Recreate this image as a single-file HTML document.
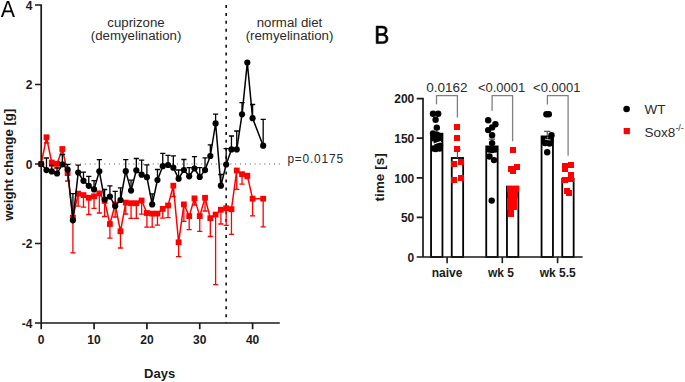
<!DOCTYPE html>
<html><head><meta charset="utf-8"><style>
html,body{margin:0;padding:0;background:#fff;}
body{width:685px;height:382px;overflow:hidden;}
svg{display:block;}
text{font-family:"Liberation Sans",sans-serif;fill:#1a1a1a;}
.tb{font-size:12px;font-weight:bold;}
.tt{font-size:13px;font-weight:bold;}
.tt2{font-size:13.2px;font-weight:bold;}
.tt3{font-size:13.6px;font-weight:bold;}
.lab{font-size:13.25px;fill:#2a2a2a;}
.pv{font-size:11.9px;fill:#2a2a2a;}
.pvb{font-size:13px;fill:#2a2a2a;}
.pvc{font-size:13.5px;fill:#2a2a2a;}
.leg{font-size:13.5px;fill:#2a2a2a;}
.sup{font-size:9px;}
.big{font-size:24px;fill:#000;}
.big2{font-size:26.3px;fill:#000;}
</style></head><body>
<svg width="685" height="382" viewBox="0 0 685 382">
<line x1="41.2" y1="164.0" x2="280" y2="164.0" stroke="#8a8a8a" stroke-width="1.4" stroke-dasharray="1 3.85"/>
<line x1="226.18" y1="5" x2="226.18" y2="323" stroke="#1a1a1a" stroke-width="1.7" stroke-dasharray="3 4.93"/>
<polyline points="41.20,164.00 46.48,137.30 51.77,162.50 57.06,163.80 62.34,149.00 67.62,173.10 72.91,217.70 78.20,193.60 83.48,195.10 88.77,197.80 94.05,196.30 99.34,193.40 104.62,200.90 109.91,224.00 115.19,204.50 120.48,231.30 125.76,202.60 131.05,203.20 136.33,203.20 141.62,200.50 146.90,213.00 152.19,213.60 157.47,213.60 162.75,208.90 168.04,205.50 173.32,185.70 178.61,242.30 183.89,204.40 189.18,216.10 194.47,198.40 199.75,216.10 205.04,197.80 210.32,218.20 215.61,214.60 220.89,209.70 226.18,208.30 231.46,209.20 236.75,170.50 242.03,174.20 247.31,175.70 252.60,198.70 263.17,198.70" fill="none" stroke="#ff0000" stroke-width="1.5" stroke-linejoin="round"/>
<path d="M46.48 137.30V143.00M43.88 143.00H49.09" stroke="#ff0000" stroke-width="1.3" fill="none"/>
<path d="M51.77 162.50V166.00M49.17 166.00H54.37" stroke="#ff0000" stroke-width="1.3" fill="none"/>
<path d="M57.06 163.80V168.20M54.46 168.20H59.66" stroke="#ff0000" stroke-width="1.3" fill="none"/>
<path d="M62.34 149.00V154.10M59.74 154.10H64.94" stroke="#ff0000" stroke-width="1.3" fill="none"/>
<path d="M67.62 173.10V181.00M65.03 181.00H70.22" stroke="#ff0000" stroke-width="1.3" fill="none"/>
<path d="M72.91 217.70V252.80M70.31 252.80H75.51" stroke="#ff0000" stroke-width="1.3" fill="none"/>
<path d="M78.20 193.60V206.20M75.60 206.20H80.80" stroke="#ff0000" stroke-width="1.3" fill="none"/>
<path d="M83.48 195.10V207.20M80.88 207.20H86.08" stroke="#ff0000" stroke-width="1.3" fill="none"/>
<path d="M88.77 197.80V214.50M86.17 214.50H91.36" stroke="#ff0000" stroke-width="1.3" fill="none"/>
<path d="M94.05 196.30V208.30M91.45 208.30H96.65" stroke="#ff0000" stroke-width="1.3" fill="none"/>
<path d="M99.34 193.40V213.00M96.74 213.00H101.94" stroke="#ff0000" stroke-width="1.3" fill="none"/>
<path d="M104.62 200.90V216.50M102.02 216.50H107.22" stroke="#ff0000" stroke-width="1.3" fill="none"/>
<path d="M109.91 224.00V238.20M107.31 238.20H112.50" stroke="#ff0000" stroke-width="1.3" fill="none"/>
<path d="M115.19 204.50V217.00M112.59 217.00H117.79" stroke="#ff0000" stroke-width="1.3" fill="none"/>
<path d="M120.48 231.30V248.00M117.88 248.00H123.08" stroke="#ff0000" stroke-width="1.3" fill="none"/>
<path d="M125.76 202.60V214.00M123.16 214.00H128.36" stroke="#ff0000" stroke-width="1.3" fill="none"/>
<path d="M131.05 203.20V218.40M128.45 218.40H133.65" stroke="#ff0000" stroke-width="1.3" fill="none"/>
<path d="M136.33 203.20V218.40M133.73 218.40H138.93" stroke="#ff0000" stroke-width="1.3" fill="none"/>
<path d="M141.62 200.50V214.20M139.02 214.20H144.22" stroke="#ff0000" stroke-width="1.3" fill="none"/>
<path d="M146.90 213.00V227.20M144.30 227.20H149.50" stroke="#ff0000" stroke-width="1.3" fill="none"/>
<path d="M152.19 213.60V227.20M149.59 227.20H154.78" stroke="#ff0000" stroke-width="1.3" fill="none"/>
<path d="M157.47 213.60V225.20M154.87 225.20H160.07" stroke="#ff0000" stroke-width="1.3" fill="none"/>
<path d="M162.75 208.90V218.20M160.16 218.20H165.35" stroke="#ff0000" stroke-width="1.3" fill="none"/>
<path d="M168.04 205.50V217.60M165.44 217.60H170.64" stroke="#ff0000" stroke-width="1.3" fill="none"/>
<path d="M173.32 185.70V196.70M170.72 196.70H175.92" stroke="#ff0000" stroke-width="1.3" fill="none"/>
<path d="M178.61 242.30V256.70M176.01 256.70H181.21" stroke="#ff0000" stroke-width="1.3" fill="none"/>
<path d="M183.89 204.40V221.40M181.29 221.40H186.49" stroke="#ff0000" stroke-width="1.3" fill="none"/>
<path d="M189.18 216.10V229.70M186.58 229.70H191.78" stroke="#ff0000" stroke-width="1.3" fill="none"/>
<path d="M194.47 198.40V205.00M191.87 205.00H197.07" stroke="#ff0000" stroke-width="1.3" fill="none"/>
<path d="M199.75 216.10V231.30M197.15 231.30H202.35" stroke="#ff0000" stroke-width="1.3" fill="none"/>
<path d="M205.04 197.80V211.00M202.44 211.00H207.64" stroke="#ff0000" stroke-width="1.3" fill="none"/>
<path d="M210.32 218.20V236.50M207.72 236.50H212.92" stroke="#ff0000" stroke-width="1.3" fill="none"/>
<path d="M215.61 214.60V284.60M213.01 284.60H218.21" stroke="#ff0000" stroke-width="1.3" fill="none"/>
<path d="M220.89 209.70V224.00M218.29 224.00H223.49" stroke="#ff0000" stroke-width="1.3" fill="none"/>
<path d="M226.18 208.30V225.30M223.58 225.30H228.78" stroke="#ff0000" stroke-width="1.3" fill="none"/>
<path d="M231.46 209.20V234.30M228.86 234.30H234.06" stroke="#ff0000" stroke-width="1.3" fill="none"/>
<path d="M236.75 170.50V189.30M234.15 189.30H239.34" stroke="#ff0000" stroke-width="1.3" fill="none"/>
<path d="M242.03 174.20V184.10M239.43 184.10H244.63" stroke="#ff0000" stroke-width="1.3" fill="none"/>
<path d="M247.31 175.70V178.50M244.72 178.50H249.91" stroke="#ff0000" stroke-width="1.3" fill="none"/>
<path d="M252.60 198.70V215.90M250.00 215.90H255.20" stroke="#ff0000" stroke-width="1.3" fill="none"/>
<path d="M263.17 198.70V226.90M260.57 226.90H265.77" stroke="#ff0000" stroke-width="1.3" fill="none"/>
<rect x="38.30" y="161.10" width="5.80" height="5.80" fill="#ff0000"/>
<rect x="43.59" y="134.40" width="5.80" height="5.80" fill="#ff0000"/>
<rect x="48.87" y="159.60" width="5.80" height="5.80" fill="#ff0000"/>
<rect x="54.16" y="160.90" width="5.80" height="5.80" fill="#ff0000"/>
<rect x="59.44" y="146.10" width="5.80" height="5.80" fill="#ff0000"/>
<rect x="64.72" y="170.20" width="5.80" height="5.80" fill="#ff0000"/>
<rect x="70.01" y="214.80" width="5.80" height="5.80" fill="#ff0000"/>
<rect x="75.30" y="190.70" width="5.80" height="5.80" fill="#ff0000"/>
<rect x="80.58" y="192.20" width="5.80" height="5.80" fill="#ff0000"/>
<rect x="85.86" y="194.90" width="5.80" height="5.80" fill="#ff0000"/>
<rect x="91.15" y="193.40" width="5.80" height="5.80" fill="#ff0000"/>
<rect x="96.44" y="190.50" width="5.80" height="5.80" fill="#ff0000"/>
<rect x="101.72" y="198.00" width="5.80" height="5.80" fill="#ff0000"/>
<rect x="107.00" y="221.10" width="5.80" height="5.80" fill="#ff0000"/>
<rect x="112.29" y="201.60" width="5.80" height="5.80" fill="#ff0000"/>
<rect x="117.58" y="228.40" width="5.80" height="5.80" fill="#ff0000"/>
<rect x="122.86" y="199.70" width="5.80" height="5.80" fill="#ff0000"/>
<rect x="128.15" y="200.30" width="5.80" height="5.80" fill="#ff0000"/>
<rect x="133.43" y="200.30" width="5.80" height="5.80" fill="#ff0000"/>
<rect x="138.72" y="197.60" width="5.80" height="5.80" fill="#ff0000"/>
<rect x="144.00" y="210.10" width="5.80" height="5.80" fill="#ff0000"/>
<rect x="149.28" y="210.70" width="5.80" height="5.80" fill="#ff0000"/>
<rect x="154.57" y="210.70" width="5.80" height="5.80" fill="#ff0000"/>
<rect x="159.85" y="206.00" width="5.80" height="5.80" fill="#ff0000"/>
<rect x="165.14" y="202.60" width="5.80" height="5.80" fill="#ff0000"/>
<rect x="170.42" y="182.80" width="5.80" height="5.80" fill="#ff0000"/>
<rect x="175.71" y="239.40" width="5.80" height="5.80" fill="#ff0000"/>
<rect x="180.99" y="201.50" width="5.80" height="5.80" fill="#ff0000"/>
<rect x="186.28" y="213.20" width="5.80" height="5.80" fill="#ff0000"/>
<rect x="191.57" y="195.50" width="5.80" height="5.80" fill="#ff0000"/>
<rect x="196.85" y="213.20" width="5.80" height="5.80" fill="#ff0000"/>
<rect x="202.14" y="194.90" width="5.80" height="5.80" fill="#ff0000"/>
<rect x="207.42" y="215.30" width="5.80" height="5.80" fill="#ff0000"/>
<rect x="212.71" y="211.70" width="5.80" height="5.80" fill="#ff0000"/>
<rect x="217.99" y="206.80" width="5.80" height="5.80" fill="#ff0000"/>
<rect x="223.28" y="205.40" width="5.80" height="5.80" fill="#ff0000"/>
<rect x="228.56" y="206.30" width="5.80" height="5.80" fill="#ff0000"/>
<rect x="233.84" y="167.60" width="5.80" height="5.80" fill="#ff0000"/>
<rect x="239.13" y="171.30" width="5.80" height="5.80" fill="#ff0000"/>
<rect x="244.41" y="172.80" width="5.80" height="5.80" fill="#ff0000"/>
<rect x="249.70" y="195.80" width="5.80" height="5.80" fill="#ff0000"/>
<rect x="260.27" y="195.80" width="5.80" height="5.80" fill="#ff0000"/>
<polyline points="41.20,164.00 46.48,170.10 51.77,171.40 57.06,173.50 62.34,164.30 67.62,169.60 72.91,220.30 78.20,172.50 83.48,180.80 88.77,185.80 94.05,189.40 99.34,171.30 104.62,199.60 109.91,196.60 115.19,206.00 120.48,200.00 125.76,171.20 131.05,190.60 136.33,170.30 141.62,174.70 146.90,177.20 152.19,204.40 157.47,180.00 162.75,166.20 168.04,165.00 173.32,167.70 178.61,178.70 183.89,170.00 189.18,176.30 194.47,168.50 199.75,177.00 205.04,170.10 210.32,156.00 215.61,123.40 220.89,185.70 226.18,164.50 231.46,149.40 236.75,149.40 242.03,114.30 247.31,62.60 252.60,118.20 263.17,145.70" fill="none" stroke="#000000" stroke-width="1.5" stroke-linejoin="round"/>
<path d="M46.48 170.10V158.00M43.88 158.00H49.09" stroke="#000000" stroke-width="1.3" fill="none"/>
<path d="M51.77 171.40V165.30M49.17 165.30H54.37" stroke="#000000" stroke-width="1.3" fill="none"/>
<path d="M57.06 173.50V167.80M54.46 167.80H59.66" stroke="#000000" stroke-width="1.3" fill="none"/>
<path d="M62.34 164.30V154.60M59.74 154.60H64.94" stroke="#000000" stroke-width="1.3" fill="none"/>
<path d="M67.62 169.60V164.40M65.03 164.40H70.22" stroke="#000000" stroke-width="1.3" fill="none"/>
<path d="M72.91 220.30V193.60M70.31 193.60H75.51" stroke="#000000" stroke-width="1.3" fill="none"/>
<path d="M78.20 172.50V165.10M75.60 165.10H80.80" stroke="#000000" stroke-width="1.3" fill="none"/>
<path d="M83.48 180.80V172.10M80.88 172.10H86.08" stroke="#000000" stroke-width="1.3" fill="none"/>
<path d="M88.77 185.80V176.40M86.17 176.40H91.36" stroke="#000000" stroke-width="1.3" fill="none"/>
<path d="M94.05 189.40V180.60M91.45 180.60H96.65" stroke="#000000" stroke-width="1.3" fill="none"/>
<path d="M99.34 171.30V159.70M96.74 159.70H101.94" stroke="#000000" stroke-width="1.3" fill="none"/>
<path d="M104.62 199.60V189.50M102.02 189.50H107.22" stroke="#000000" stroke-width="1.3" fill="none"/>
<path d="M109.91 196.60V185.90M107.31 185.90H112.50" stroke="#000000" stroke-width="1.3" fill="none"/>
<path d="M115.19 206.00V191.30M112.59 191.30H117.79" stroke="#000000" stroke-width="1.3" fill="none"/>
<path d="M120.48 200.00V187.80M117.88 187.80H123.08" stroke="#000000" stroke-width="1.3" fill="none"/>
<path d="M125.76 171.20V159.70M123.16 159.70H128.36" stroke="#000000" stroke-width="1.3" fill="none"/>
<path d="M131.05 190.60V180.10M128.45 180.10H133.65" stroke="#000000" stroke-width="1.3" fill="none"/>
<path d="M136.33 170.30V158.50M133.73 158.50H138.93" stroke="#000000" stroke-width="1.3" fill="none"/>
<path d="M141.62 174.70V160.10M139.02 160.10H144.22" stroke="#000000" stroke-width="1.3" fill="none"/>
<path d="M146.90 177.20V164.80M144.30 164.80H149.50" stroke="#000000" stroke-width="1.3" fill="none"/>
<path d="M152.19 204.40V193.80M149.59 193.80H154.78" stroke="#000000" stroke-width="1.3" fill="none"/>
<path d="M157.47 180.00V169.50M154.87 169.50H160.07" stroke="#000000" stroke-width="1.3" fill="none"/>
<path d="M162.75 166.20V153.30M160.16 153.30H165.35" stroke="#000000" stroke-width="1.3" fill="none"/>
<path d="M168.04 165.00V155.40M165.44 155.40H170.64" stroke="#000000" stroke-width="1.3" fill="none"/>
<path d="M173.32 167.70V155.90M170.72 155.90H175.92" stroke="#000000" stroke-width="1.3" fill="none"/>
<path d="M178.61 178.70V170.00M176.01 170.00H181.21" stroke="#000000" stroke-width="1.3" fill="none"/>
<path d="M183.89 170.00V159.50M181.29 159.50H186.49" stroke="#000000" stroke-width="1.3" fill="none"/>
<path d="M189.18 176.30V167.70M186.58 167.70H191.78" stroke="#000000" stroke-width="1.3" fill="none"/>
<path d="M194.47 168.50V156.70M191.87 156.70H197.07" stroke="#000000" stroke-width="1.3" fill="none"/>
<path d="M199.75 177.00V167.70M197.15 167.70H202.35" stroke="#000000" stroke-width="1.3" fill="none"/>
<path d="M205.04 170.10V157.80M202.44 157.80H207.64" stroke="#000000" stroke-width="1.3" fill="none"/>
<path d="M210.32 156.00V144.80M207.72 144.80H212.92" stroke="#000000" stroke-width="1.3" fill="none"/>
<path d="M215.61 123.40V114.10M213.01 114.10H218.21" stroke="#000000" stroke-width="1.3" fill="none"/>
<path d="M220.89 185.70V174.50M218.29 174.50H223.49" stroke="#000000" stroke-width="1.3" fill="none"/>
<path d="M226.18 164.50V148.60M223.58 148.60H228.78" stroke="#000000" stroke-width="1.3" fill="none"/>
<path d="M231.46 149.40V136.00M228.86 136.00H234.06" stroke="#000000" stroke-width="1.3" fill="none"/>
<path d="M236.75 149.40V131.00M234.15 131.00H239.34" stroke="#000000" stroke-width="1.3" fill="none"/>
<path d="M242.03 114.30V102.60M239.43 102.60H244.63" stroke="#000000" stroke-width="1.3" fill="none"/>
<path d="M252.60 118.20V104.50M250.00 104.50H255.20" stroke="#000000" stroke-width="1.3" fill="none"/>
<path d="M263.17 145.70V119.30M260.57 119.30H265.77" stroke="#000000" stroke-width="1.3" fill="none"/>
<circle cx="41.20" cy="164.00" r="3.1" fill="#000000"/>
<circle cx="46.48" cy="170.10" r="3.1" fill="#000000"/>
<circle cx="51.77" cy="171.40" r="3.1" fill="#000000"/>
<circle cx="57.06" cy="173.50" r="3.1" fill="#000000"/>
<circle cx="62.34" cy="164.30" r="3.1" fill="#000000"/>
<circle cx="67.62" cy="169.60" r="3.1" fill="#000000"/>
<circle cx="72.91" cy="220.30" r="3.1" fill="#000000"/>
<circle cx="78.20" cy="172.50" r="3.1" fill="#000000"/>
<circle cx="83.48" cy="180.80" r="3.1" fill="#000000"/>
<circle cx="88.77" cy="185.80" r="3.1" fill="#000000"/>
<circle cx="94.05" cy="189.40" r="3.1" fill="#000000"/>
<circle cx="99.34" cy="171.30" r="3.1" fill="#000000"/>
<circle cx="104.62" cy="199.60" r="3.1" fill="#000000"/>
<circle cx="109.91" cy="196.60" r="3.1" fill="#000000"/>
<circle cx="115.19" cy="206.00" r="3.1" fill="#000000"/>
<circle cx="120.48" cy="200.00" r="3.1" fill="#000000"/>
<circle cx="125.76" cy="171.20" r="3.1" fill="#000000"/>
<circle cx="131.05" cy="190.60" r="3.1" fill="#000000"/>
<circle cx="136.33" cy="170.30" r="3.1" fill="#000000"/>
<circle cx="141.62" cy="174.70" r="3.1" fill="#000000"/>
<circle cx="146.90" cy="177.20" r="3.1" fill="#000000"/>
<circle cx="152.19" cy="204.40" r="3.1" fill="#000000"/>
<circle cx="157.47" cy="180.00" r="3.1" fill="#000000"/>
<circle cx="162.75" cy="166.20" r="3.1" fill="#000000"/>
<circle cx="168.04" cy="165.00" r="3.1" fill="#000000"/>
<circle cx="173.32" cy="167.70" r="3.1" fill="#000000"/>
<circle cx="178.61" cy="178.70" r="3.1" fill="#000000"/>
<circle cx="183.89" cy="170.00" r="3.1" fill="#000000"/>
<circle cx="189.18" cy="176.30" r="3.1" fill="#000000"/>
<circle cx="194.47" cy="168.50" r="3.1" fill="#000000"/>
<circle cx="199.75" cy="177.00" r="3.1" fill="#000000"/>
<circle cx="205.04" cy="170.10" r="3.1" fill="#000000"/>
<circle cx="210.32" cy="156.00" r="3.1" fill="#000000"/>
<circle cx="215.61" cy="123.40" r="3.1" fill="#000000"/>
<circle cx="220.89" cy="185.70" r="3.1" fill="#000000"/>
<circle cx="226.18" cy="164.50" r="3.1" fill="#000000"/>
<circle cx="231.46" cy="149.40" r="3.1" fill="#000000"/>
<circle cx="236.75" cy="149.40" r="3.1" fill="#000000"/>
<circle cx="242.03" cy="114.30" r="3.1" fill="#000000"/>
<circle cx="247.31" cy="62.60" r="3.1" fill="#000000"/>
<circle cx="252.60" cy="118.20" r="3.1" fill="#000000"/>
<circle cx="263.17" cy="145.70" r="3.1" fill="#000000"/>
<path d="M41.2 4.2V323.8M35 5H41.2M35 84.5H41.2M35 164H41.2M35 243.5H41.2M35 323H279.8" stroke="#1a1a1a" stroke-width="1.7" fill="none"/>
<line x1="41.20" y1="323" x2="41.20" y2="329.2" stroke="#1a1a1a" stroke-width="1.7"/>
<line x1="94.05" y1="323" x2="94.05" y2="329.2" stroke="#1a1a1a" stroke-width="1.7"/>
<line x1="146.90" y1="323" x2="146.90" y2="329.2" stroke="#1a1a1a" stroke-width="1.7"/>
<line x1="199.75" y1="323" x2="199.75" y2="329.2" stroke="#1a1a1a" stroke-width="1.7"/>
<line x1="252.60" y1="323" x2="252.60" y2="329.2" stroke="#1a1a1a" stroke-width="1.7"/>
<text x="32.4" y="9.5" class="tb" text-anchor="end">4</text>
<text x="32.4" y="89.0" class="tb" text-anchor="end">2</text>
<text x="32.4" y="168.5" class="tb" text-anchor="end">0</text>
<text x="32.4" y="248.0" class="tb" text-anchor="end">-2</text>
<text x="32.4" y="327.5" class="tb" text-anchor="end">-4</text>
<text x="41.20" y="343.6" class="tb" text-anchor="middle">0</text>
<text x="94.05" y="343.6" class="tb" text-anchor="middle">10</text>
<text x="146.90" y="343.6" class="tb" text-anchor="middle">20</text>
<text x="199.75" y="343.6" class="tb" text-anchor="middle">30</text>
<text x="252.60" y="343.6" class="tb" text-anchor="middle">40</text>
<text x="159.6" y="377.6" class="tt" text-anchor="middle">Days</text>
<text transform="translate(13.3 164.8) rotate(-90)" class="tt2" text-anchor="middle">weight change [g]</text>
<text x="136" y="26.5" class="lab" text-anchor="middle">cuprizone</text>
<text x="136.1" y="40.2" class="lab" text-anchor="middle">(demyelination)</text>
<text x="289.5" y="26.5" class="lab" text-anchor="middle">normal diet</text>
<text x="289.5" y="40.2" class="lab" text-anchor="middle">(remyelination)</text>
<text x="287.4" y="162.9" class="pv" textLength="55.6" lengthAdjust="spacing">p=0.0175</text>
<path transform="translate(0.859 16.9) scale(0.010309 -0.011356)" fill="#000" d="M1167 0 1006 412H364L202 0H4L579 1409H796L1362 0ZM685 1265 676 1237Q651 1154 602 1024L422 561H949L768 1026Q740 1095 712 1182Z"/>
<path transform="translate(374.34 43.59) scale(0.010877 -0.012406)" fill="#000" stroke="#000" stroke-width="50" d="M1258 397Q1258 209 1121.0 104.5Q984 0 740 0H168V1409H680Q1176 1409 1176 1067Q1176 942 1106.0 857.0Q1036 772 908 743Q1076 723 1167.0 630.5Q1258 538 1258 397ZM984 1044Q984 1158 906.0 1207.0Q828 1256 680 1256H359V810H680Q833 810 908.5 867.5Q984 925 984 1044ZM1065 412Q1065 661 715 661H359V153H730Q905 153 985.0 218.0Q1065 283 1065 412Z"/>
<rect x="431.05" y="133.70" width="11.40" height="123.30" fill="#fff" stroke="#000000" stroke-width="1.8"/>
<rect x="486.25" y="146.40" width="11.40" height="110.60" fill="#fff" stroke="#000000" stroke-width="1.8"/>
<rect x="541.55" y="136.40" width="11.40" height="120.60" fill="#fff" stroke="#000000" stroke-width="1.8"/>
<rect x="451.75" y="158.00" width="11.40" height="99.00" fill="#fff" stroke="#000000" stroke-width="1.8"/>
<rect x="506.95" y="186.60" width="11.40" height="70.40" fill="#fff" stroke="#000000" stroke-width="1.8"/>
<rect x="562.25" y="178.70" width="11.40" height="78.30" fill="#fff" stroke="#000000" stroke-width="1.8"/>
<path d="M491.95 146.40V139.20M488.75 139.20H495.15" stroke="#555" stroke-width="1.2" fill="none"/>
<path d="M547.25 136.40V131.30M544.05 131.30H550.45" stroke="#555" stroke-width="1.2" fill="none"/>
<path d="M457.45 158.00V149.50M454.25 149.50H460.65" stroke="#555" stroke-width="1.2" fill="none"/>
<path d="M436.75 133.70V129.00M433.55 129.00H439.95" stroke="#555" stroke-width="1.2" fill="none"/>
<circle cx="433.00" cy="113.80" r="3.2" fill="#000000"/>
<circle cx="438.20" cy="113.80" r="3.2" fill="#000000"/>
<circle cx="435.60" cy="119.70" r="3.2" fill="#000000"/>
<circle cx="436.80" cy="127.60" r="3.2" fill="#000000"/>
<circle cx="433.00" cy="133.40" r="3.2" fill="#000000"/>
<circle cx="437.00" cy="134.80" r="3.2" fill="#000000"/>
<circle cx="439.80" cy="136.20" r="3.2" fill="#000000"/>
<circle cx="434.00" cy="138.40" r="3.2" fill="#000000"/>
<circle cx="439.60" cy="139.20" r="3.2" fill="#000000"/>
<circle cx="440.00" cy="145.60" r="3.2" fill="#000000"/>
<circle cx="437.00" cy="147.40" r="3.2" fill="#000000"/>
<circle cx="433.60" cy="148.40" r="3.2" fill="#000000"/>
<circle cx="439.60" cy="148.60" r="3.2" fill="#000000"/>
<circle cx="435.60" cy="149.00" r="3.2" fill="#000000"/>
<circle cx="436.80" cy="142.60" r="3.2" fill="#000000"/>
<circle cx="488.20" cy="120.20" r="3.2" fill="#000000"/>
<circle cx="495.40" cy="124.20" r="3.2" fill="#000000"/>
<circle cx="492.10" cy="127.40" r="3.2" fill="#000000"/>
<circle cx="488.20" cy="130.10" r="3.2" fill="#000000"/>
<circle cx="492.10" cy="135.30" r="3.2" fill="#000000"/>
<circle cx="492.10" cy="143.10" r="3.2" fill="#000000"/>
<circle cx="489.00" cy="149.60" r="3.2" fill="#000000"/>
<circle cx="495.00" cy="149.60" r="3.2" fill="#000000"/>
<circle cx="492.00" cy="150.00" r="3.2" fill="#000000"/>
<circle cx="489.50" cy="156.50" r="3.2" fill="#000000"/>
<circle cx="494.00" cy="160.10" r="3.2" fill="#000000"/>
<circle cx="491.70" cy="200.60" r="3.2" fill="#000000"/>
<circle cx="546.40" cy="114.30" r="3.2" fill="#000000"/>
<circle cx="548.80" cy="114.30" r="3.2" fill="#000000"/>
<circle cx="551.50" cy="135.20" r="3.2" fill="#000000"/>
<circle cx="544.50" cy="139.50" r="3.2" fill="#000000"/>
<circle cx="550.50" cy="140.00" r="3.2" fill="#000000"/>
<circle cx="545.00" cy="143.00" r="3.2" fill="#000000"/>
<circle cx="549.50" cy="143.50" r="3.2" fill="#000000"/>
<circle cx="547.20" cy="152.20" r="3.2" fill="#000000"/>
<path d="M432.6 144.6L436.5 143.0L441.0 141.6" stroke="#fff" stroke-width="1.1" fill="none"/>
<path d="M545.0 139.2L550.5 140.0" stroke="#fff" stroke-width="0.8" fill="none"/>
<rect x="454" y="124" width="6" height="6" fill="#ff0000"/>
<rect x="454" y="135" width="6" height="6" fill="#ff0000"/>
<rect x="454" y="146" width="6" height="6" fill="#ff0000"/>
<rect x="451" y="161" width="6" height="6" fill="#ff0000"/>
<rect x="458" y="159" width="6" height="6" fill="#ff0000"/>
<rect x="451" y="177" width="6" height="6" fill="#ff0000"/>
<rect x="458" y="175" width="6" height="6" fill="#ff0000"/>
<rect x="510" y="147" width="6" height="6" fill="#ff0000"/>
<rect x="508" y="166" width="6" height="6" fill="#ff0000"/>
<rect x="514" y="164" width="6" height="6" fill="#ff0000"/>
<rect x="510" y="168" width="6" height="6" fill="#ff0000"/>
<rect x="507" y="186" width="6" height="6" fill="#ff0000"/>
<rect x="513" y="186" width="6" height="6" fill="#ff0000"/>
<rect x="508" y="192" width="6" height="6" fill="#ff0000"/>
<rect x="512" y="192" width="6" height="6" fill="#ff0000"/>
<rect x="507" y="198" width="6" height="6" fill="#ff0000"/>
<rect x="511" y="198" width="6" height="6" fill="#ff0000"/>
<rect x="507" y="204" width="6" height="6" fill="#ff0000"/>
<rect x="511" y="204" width="6" height="6" fill="#ff0000"/>
<rect x="508" y="208" width="6" height="6" fill="#ff0000"/>
<rect x="508" y="211" width="6" height="6" fill="#ff0000"/>
<rect x="562" y="163" width="6" height="6" fill="#ff0000"/>
<rect x="568" y="162" width="6" height="6" fill="#ff0000"/>
<rect x="562" y="166" width="6" height="6" fill="#ff0000"/>
<rect x="568" y="172" width="6" height="6" fill="#ff0000"/>
<rect x="562" y="177" width="6" height="6" fill="#ff0000"/>
<rect x="568" y="176" width="6" height="6" fill="#ff0000"/>
<rect x="564" y="188" width="6" height="6" fill="#ff0000"/>
<rect x="566" y="190" width="6" height="6" fill="#ff0000"/>
<path d="M436.5 104.3V95.6H457.4V117.4" stroke="#808080" stroke-width="1.3" fill="none"/>
<path d="M492.1 110.8V95.7H512.6V141.2" stroke="#808080" stroke-width="1.3" fill="none"/>
<path d="M547.4 104.6V95.7H568.1V155.7" stroke="#808080" stroke-width="1.3" fill="none"/>
<text x="446.8" y="91.8" class="pvc" text-anchor="middle">0.0162</text>
<text x="501.6" y="91.8" class="pvb" text-anchor="middle">&lt;0.0001</text>
<text x="556.8" y="91.8" class="pvb" text-anchor="middle">&lt;0.0001</text>
<path d="M423.0 97.8V257.8M416.7 98.6H423.0M416.7 138.2H423.0M416.7 177.8H423.0M416.7 217.4H423.0M416.7 257H582.6" stroke="#1a1a1a" stroke-width="1.7" fill="none"/>
<line x1="447.1" y1="257" x2="447.1" y2="263.2" stroke="#1a1a1a" stroke-width="1.6"/>
<line x1="502.3" y1="257" x2="502.3" y2="263.2" stroke="#1a1a1a" stroke-width="1.6"/>
<line x1="557.6" y1="257" x2="557.6" y2="263.2" stroke="#1a1a1a" stroke-width="1.6"/>
<text x="414.3" y="261.8" class="tb" text-anchor="end">0</text>
<text x="414.3" y="222.2" class="tb" text-anchor="end">50</text>
<text x="414.3" y="182.6" class="tb" text-anchor="end">100</text>
<text x="414.3" y="143.0" class="tb" text-anchor="end">150</text>
<text x="414.3" y="103.4" class="tb" text-anchor="end">200</text>
<text x="447.1" y="276.5" class="tb" text-anchor="middle">naive</text>
<text x="501.0" y="276.5" class="tb" text-anchor="middle">wk 5</text>
<text x="557.7" y="276.5" class="tb" text-anchor="middle">wk 5.5</text>
<text transform="translate(384.2 177.4) rotate(-90)" class="tt3" text-anchor="middle">time [s]</text>
<circle cx="626.6" cy="109.0" r="3.3" fill="#000000"/>
<text x="644.6" y="113.9" class="leg">WT</text>
<rect x="623.7" y="128.0" width="6.2" height="6.2" fill="#ff0000"/>
<text x="644.6" y="137.2" class="leg">Sox8<tspan class="sup" dy="-6.2">-/-</tspan></text>
</svg>
</body></html>
